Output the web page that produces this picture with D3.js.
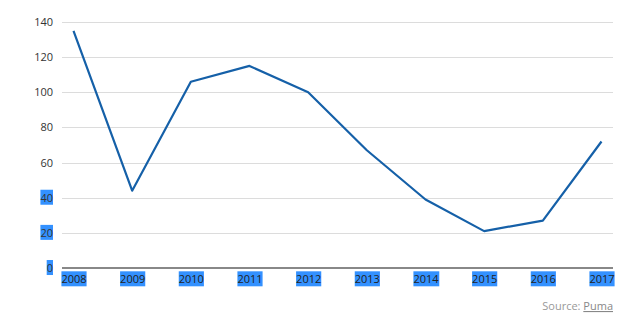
<!DOCTYPE html>
<html><head><meta charset="utf-8">
<script src="https://cdn.jsdelivr.net/npm/d3@7"></script>
<style>
html,body{margin:0;padding:0;background:#fff;}
svg{display:block;font-family:"Open Sans",sans-serif;}
</style></head>
<body><svg id="c" width="640" height="317"></svg>
<script>
const years = ["2008","2009","2010","2011","2012","2013","2014","2015","2016","2017"];
const values = [135, 44, 106, 115, 100, 67, 39, 21, 27, 72];
const yTicks = [0, 20, 40, 60, 80, 100, 120, 140];
const highlightedY = [0, 20, 40];
const sourceLabel = "Source: ";
const sourceName = "Puma";

const svg = d3.select("#c");
const x = d3.scalePoint().domain(years).range([73.5, 601.5]);
const y = d3.scaleLinear().domain([0, 140]).range([268, 22]);
const x0 = 62, x1 = 613;
const hl = "#3391ff";

// gridlines
svg.append("g").selectAll("line").data(yTicks.filter(d => d > 0)).join("line")
  .attr("x1", x0).attr("x2", x1)
  .attr("y1", d => Math.round(y(d)) + 0.5).attr("y2", d => Math.round(y(d)) + 0.5)
  .attr("stroke", "#dcdcdc").attr("stroke-width", 1);

// y labels
const yAxis = d3.axisLeft(y).tickValues(yTicks).tickSize(0).tickPadding(0);
const gy = svg.append("g").attr("transform", "translate(53,0)").call(yAxis);
gy.select(".domain").remove();
gy.selectAll("text").attr("font-size", 11).attr("fill", "#333")
  .attr("font-family", "'Open Sans',sans-serif");

// x axis
const xAxis = d3.axisBottom(x).tickSize(0).tickPadding(0);
const gx = svg.append("g").attr("transform", "translate(0,275.5)").call(xAxis);
gx.select(".domain").remove();
gx.selectAll("text").attr("font-size", 11).attr("fill", "#222").attr("dy", "0.71em")
  .attr("font-family", "'Open Sans',sans-serif");

// highlights behind selected labels
function highlight(sel) {
  sel.each(function() {
    const b = this.getBBox();
    d3.select(this.parentNode).insert("rect", "text")
      .attr("x", b.x).attr("y", b.y).attr("width", b.width).attr("height", b.height)
      .attr("fill", hl);
  });
}
highlight(gx.selectAll("text"));
highlight(gy.selectAll(".tick").filter(d => highlightedY.includes(d)).select("text"));

// baseline axis
svg.append("line").attr("x1", x0).attr("x2", x1)
  .attr("y1", y(0)).attr("y2", y(0))
  .attr("stroke", "#888").attr("stroke-width", 2);

// line
const line = d3.line().x((d, i) => x(years[i])).y(d => y(d));
svg.append("path").datum(values).attr("d", line)
  .attr("fill", "none").attr("stroke", "#1560a8").attr("stroke-width", 2.2)
  .attr("stroke-linejoin", "round");

// source
const src = svg.append("text").attr("x", x1).attr("y", 310).attr("text-anchor", "end")
  .attr("font-size", 11).attr("fill", "#999");
src.append("tspan").text(sourceLabel);
src.append("tspan").text(sourceName).attr("fill", "#888").attr("text-decoration", "underline");
</script></body></html>
